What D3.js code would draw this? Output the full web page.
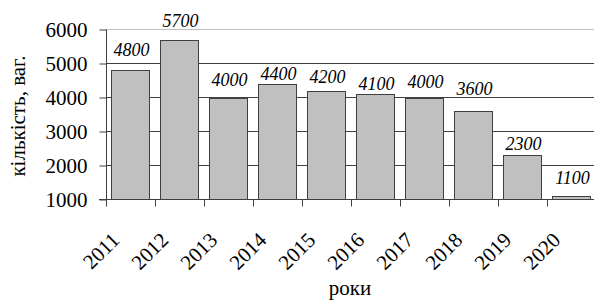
<!DOCTYPE html>
<html>
<head>
<meta charset="utf-8">
<script src="https://cdn.jsdelivr.net/npm/d3@7"></script>
<style>
  body { margin: 0; background: #fff; }
  svg text { font-family: "Liberation Serif", "Times New Roman", Times, "DejaVu Serif", serif; fill: #000; }
</style>
</head>
<body>
<div id="chart"></div>
<script>
const width = 594;
const height = 302;

const years = ['2011', '2012', '2013', '2014', '2015', '2016', '2017', '2018', '2019', '2020'];
const counts = [4800, 5700, 4000, 4400, 4200, 4100, 4000, 3600, 2300, 1100];
const yTicks = [1000, 2000, 3000, 4000, 5000, 6000];
// data labels were hand-placed in the original, so they sit at uneven heights
const labelLift = [14, 13, 12, 4, 8, 4, 10, 16, 5, 12];

const serif = '"Liberation Serif", "Times New Roman", Times, "DejaVu Serif", serif';
const colorBar = '#c0c0c0';
const colorLine = '#404040';
const colorTop = '#c0c0c0';

const svg = d3.select('#chart')
    .append('svg')
    .attr('width', width)
    .attr('height', height)
    .attr('font-family', serif);

const x = d3.scaleBand()
    .domain(years)
    .range([106, 596])
    .paddingInner(0.22)
    .paddingOuter(0.11);

const y = d3.scaleLinear()
    .domain([1000, 6000])
    .range([199.5, 29.5]);

// gridlines
svg.append('g')
    .selectAll('line')
    .data(yTicks.slice(1))
    .enter()
    .append('line')
    .attr('x1', 106)
    .attr('x2', width)
    .attr('y1', d => y(d))
    .attr('y2', d => y(d))
    .attr('stroke', d => d === 6000 ? colorTop : colorLine)
    .attr('stroke-width', 1);

// bars
svg.append('g')
    .selectAll('rect')
    .data(counts)
    .enter()
    .append('rect')
    .attr('x', (d, i) => Math.round(x(years[i])) + 0.5)
    .attr('y', d => Math.round(y(d)) + 0.5)
    .attr('width', Math.round(x.bandwidth()))
    .attr('height', d => y(1000) - Math.round(y(d)) - 0.5)
    .attr('fill', colorBar)
    .attr('stroke', colorLine)
    .attr('stroke-width', 1);

// value labels
svg.append('g')
    .selectAll('text')
    .data(counts)
    .enter()
    .append('text')
    .attr('x', (d, i) => x(years[i]) + x.bandwidth() / 2 + 1)
    .attr('y', (d, i) => y(d) - labelLift[i])
    .attr('text-anchor', 'middle')
    .style('font-family', serif)
    .style('font-size', '18px')
    .style('font-style', 'italic')
    .text(d => d);

// y axis
const yAxis = svg.append('g')
    .attr('transform', 'translate(106.5,0)')
    .call(d3.axisLeft(y).tickValues(yTicks).tickSize(7).tickPadding(12).tickFormat(d3.format('d')))
    .attr('font-family', serif);
yAxis.select('.domain').attr('stroke', colorLine).attr('d', 'M0,' + y(6000) + 'V' + y(1000));
yAxis.selectAll('.tick line').attr('stroke', colorLine);
yAxis.selectAll('.tick text')
    .style('font-size', '21px')
    .style('font-family', serif)
    .attr('fill', '#000');

// x axis
svg.append('line')
    .attr('x1', 99)
    .attr('x2', width)
    .attr('y1', y(1000))
    .attr('y2', y(1000))
    .attr('stroke', colorLine);

const step = x.step();
svg.append('g')
    .selectAll('line')
    .data(years)
    .enter()
    .append('line')
    .attr('x1', (d, i) => Math.round(106 + step * i) + 0.5)
    .attr('x2', (d, i) => Math.round(106 + step * i) + 0.5)
    .attr('y1', y(1000))
    .attr('y2', y(1000) + 7)
    .attr('stroke', colorLine);

svg.append('g')
    .selectAll('text')
    .data(years)
    .enter()
    .append('text')
    .attr('transform', d => 'translate(' + (x(d) + x.bandwidth() / 2 - 15) + ',236) rotate(-45)')
    .attr('text-anchor', 'end')
    .attr('dy', '0.35em')
    .style('font-family', serif)
    .style('font-size', '21px')
    .text(d => d);

// axis titles
svg.append('text')
    .attr('x', 350)
    .attr('y', 295)
    .attr('text-anchor', 'middle')
    .style('font-family', serif)
    .style('font-size', '21px')
    .text('роки');

svg.append('text')
    .attr('transform', 'translate(25,116) rotate(-90)')
    .attr('text-anchor', 'middle')
    .style('font-family', serif)
    .style('font-size', '21px')
    .text('кількість, ваг.');
</script>
</body>
</html>
